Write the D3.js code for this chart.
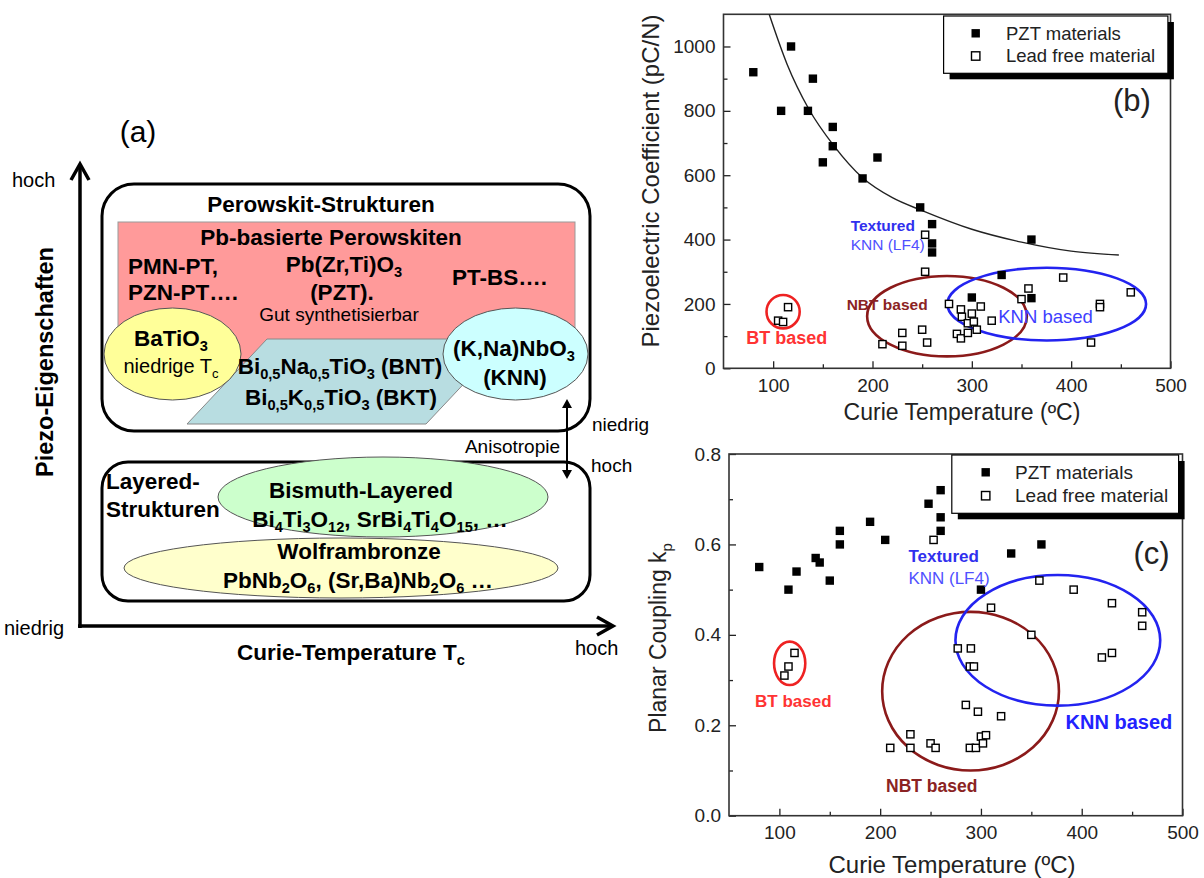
<!DOCTYPE html>
<html lang="en">
<head>
<meta charset="UTF-8">
<title>Piezo materials overview</title>
<script src="https://d3js.org/d3.v7.min.js"></script>
<style>
  body { margin: 0; background: #fff; }
  svg { display: block; font-family: "Liberation Sans", Arial, sans-serif; }
</style>
</head>
<body>
<svg id="fig" width="1204" height="878"></svg>
<script>
// ---------- data: panel (b) piezo coefficient d33 vs Curie temperature ----------
const pztD33 = [[80,920],[108,800],[118,1000],[135,800],[140,900],[150,640],[160,750],[160,690],
  [190,590],[205,655],[248,500],[260,448],[260,388],[260,360],[300,220],[330,290],[360,400],[360,218]];
const leadFreeD33 = [[105,148],[110,144],[115,190],[210,75],[230,110],[230,70],[250,120],[253,415],
  [253,300],[255,80],[277,200],[285,107],[289,183],[289,93],[290,160],[296,140],[296,110],[300,170],
  [302,145],[305,120],[309,192],[320,148],[350,215],[357,248],[392,282],[420,80],[429,200],[429,190],[460,236]];
const fitD33 = [[96,1100],[114,945],[136,805],[161,692],[190,592],[220,530],[250,490],[300,432],
  [350,392],[400,364],[448,352]];
// groups: [cx, cy, rx, ry] in data units
const groupsD33 = [[110,176,16.7,52],[275,162,80.4,125],[375.4,199.5,100,113]];

// ---------- data: panel (c) planar coupling kp vs Curie temperature ----------
const pztKp = [[80,0.55],[109,0.50],[117,0.54],[136,0.57],[140,0.56],[150,0.52],[160,0.63],[160,0.60],
  [190,0.65],[205,0.61],[248,0.69],[260,0.72],[260,0.66],[260,0.63],[300,0.50],[330,0.58],[360,0.60]];
const leadFreeKp = [[105,0.31],[109,0.33],[115,0.36],[253,0.61],[210,0.15],[230,0.18],[230,0.15],
  [250,0.16],[255,0.15],[277,0.37],[290,0.37],[289,0.33],[293,0.33],[285,0.245],[297,0.23],[320,0.22],
  [289,0.15],[295,0.15],[300,0.175],[302,0.16],[305,0.178],[310,0.46],[350,0.40],[358,0.52],[392,0.50],
  [430,0.47],[420,0.35],[430,0.36],[460,0.45],[460,0.42]];
const groupsKp = [[110.2,0.337,15.5,0.048],[289.7,0.2754,87.7,0.1754],[376.3,0.388,101.6,0.1445]];

const xTicks = [100,200,300,400,500];
const xMinor = [150,250,350,450];
const d33Ticks = [0,200,400,600,800,1000];
const d33Minor = [100,300,500,700,900];
const kpTicks = [0,0.2,0.4,0.6,0.8];
const kpMinor = [0.1,0.3,0.5,0.7];
const legendLabels = ["PZT materials", "Lead free material"];
const groupColors = ["#ee2222", "#8b1a1a", "#2323f0"];

const svg = d3.select("#fig");

// text with _{sub} markup, y = visual centre of the line
function rich(g, x, y, str, size, opts = {}) {
  const t = g.append("text")
    .attr("x", x).attr("y", y + size * 0.35)
    .attr("font-size", size)
    .attr("font-weight", opts.bold ? "bold" : "normal")
    .attr("text-anchor", opts.anchor || "middle")
    .attr("fill", opts.color || "#000");
  if (opts.rotate) t.attr("transform", `rotate(${opts.rotate},${x},${y})`);
  const parts = str.split(/(_\{[^}]*\})/).filter(s => s.length);
  let shift = 0;
  parts.forEach(p => {
    const isSub = p.startsWith("_{");
    const target = isSub ? size * 0.24 : 0;
    t.append("tspan")
      .attr("dy", target - shift)
      .attr("font-size", isSub ? size * 0.65 : size)
      .text(isSub ? p.slice(2, -1) : p);
    shift = target;
  });
  return t;
}

// ---------- panel (a): schematic ----------
const a = svg.append("g");
const B = 22.5, N = 20; // bold / normal text sizes
const bold = { bold: true };
const boldL = { bold: true, anchor: "start" };

a.append("rect").attr("x", 102).attr("y", 184).attr("width", 488).attr("height", 247)
  .attr("rx", 32).attr("fill", "#fff").attr("stroke", "#000").attr("stroke-width", 3);
a.append("rect").attr("x", 118).attr("y", 222).attr("width", 457).attr("height", 143)
  .attr("fill", "#ff9a9a").attr("stroke", "#999").attr("stroke-width", 1);
a.append("polygon").attr("points", "187,424 267,339 506,339 426,424")
  .attr("fill", "#b8dde1").attr("stroke", "#888").attr("stroke-width", 1);
a.append("ellipse").attr("cx", 172.5).attr("cy", 354).attr("rx", 68.5).attr("ry", 46)
  .attr("fill", "#ffff99").attr("stroke", "#555");
a.append("ellipse").attr("cx", 515.5).attr("cy", 354).attr("rx", 72.5).attr("ry", 46)
  .attr("fill", "#ccffff").attr("stroke", "#555");

rich(a, 321, 204, "Perowskit-Strukturen", B, bold);
rich(a, 331, 237, "Pb-basierte Perowskiten", B, bold);
rich(a, 128, 266, "PMN-PT,", B, boldL);
rich(a, 128, 292, "PZN-PT….", B, boldL);
rich(a, 344, 264, "Pb(Zr,Ti)O_{3}", B, bold);
rich(a, 342, 292, "(PZT).", B, bold);
rich(a, 452, 277, "PT-BS….", B, boldL);
rich(a, 339, 314, "Gut synthetisierbar", N - 1);
rich(a, 171, 338, "BaTiO_{3}", B, bold);
rich(a, 171, 366, "niedrige T_{c}", N);
rich(a, 340, 366, "Bi_{0,5}Na_{0,5}TiO_{3} (BNT)", B, bold);
rich(a, 341, 397, "Bi_{0,5}K_{0,5}TiO_{3} (BKT)", B, bold);
rich(a, 514, 348, "(K,Na)NbO_{3}", B, bold);
rich(a, 515, 377, "(KNN)", B, bold);

a.append("rect").attr("x", 102).attr("y", 462).attr("width", 488).attr("height", 139)
  .attr("rx", 26).attr("fill", "#fff").attr("stroke", "#000").attr("stroke-width", 3);
a.append("ellipse").attr("cx", 383).attr("cy", 497).attr("rx", 165).attr("ry", 40)
  .attr("fill", "#ccffcc").attr("stroke", "#555");
a.append("ellipse").attr("cx", 341).attr("cy", 568).attr("rx", 217).attr("ry", 30)
  .attr("fill", "#ffffcc").attr("stroke", "#555");
rich(a, 106, 481, "Layered-", B, boldL);
rich(a, 106, 509, "Strukturen", B, boldL);
rich(a, 361, 490, "Bismuth-Layered", B, bold);
rich(a, 380, 519, "Bi_{4}Ti_{3}O_{12}, SrBi_{4}Ti_{4}O_{15}, …", B, bold);
rich(a, 359, 551, "Wolframbronze", B, bold);
rich(a, 358, 580, "PbNb_{2}O_{6}, (Sr,Ba)Nb_{2}O_{6} …", B, bold);

// anisotropy double arrow
a.append("line").attr("x1", 567).attr("y1", 404).attr("x2", 567).attr("y2", 474)
  .attr("stroke", "#000").attr("stroke-width", 2);
a.append("path").attr("d", "M562,408 L567,399 L572,408 Z M562,470 L567,479 L572,470 Z").attr("fill", "#000");
rich(a, 592, 424, "niedrig", N - 1, { anchor: "start" });
rich(a, 560, 446, "Anisotropie", N - 1, { anchor: "end" });
rich(a, 591, 465, "hoch", N - 1, { anchor: "start" });

// axes of the schematic
const axStyle = s => s.attr("stroke", "#000").attr("stroke-width", 3.5).attr("fill", "none");
a.append("line").attr("x1", 80).attr("y1", 628).attr("x2", 80).attr("y2", 166).call(axStyle);
a.append("path").attr("d", "M71,180 L80,164 L89,180").call(axStyle);
a.append("line").attr("x1", 78).attr("y1", 626).attr("x2", 611).attr("y2", 626).call(axStyle);
a.append("path").attr("d", "M597,617 L613,626 L597,635").call(axStyle);
rich(a, 12, 180, "hoch", N, { anchor: "start" });
rich(a, 4, 628, "niedrig", N, { anchor: "start" });
rich(a, 575, 648, "hoch", N, { anchor: "start" });
rich(a, 138, 131, "(a)", 30);
rich(a, 45, 362, "Piezo-Eigenschaften", 23.5, { bold: true, rotate: -90 });
rich(a, 237, 652, "Curie-Temperature T_{c}", B, boldL);

// ---------- scatter panels ----------
function drawPanel(p) {
  const g = svg.append("g");
  const x = d3.scaleLinear().domain([50, 500]).range(p.xRange);
  const y = d3.scaleLinear().domain(p.yDomain).range(p.yRange);
  const [left, right] = p.xRange, [bottom, top] = p.yRange;

  const styleAxis = s => {
    s.select(".domain").remove();
    s.attr("font-family", null).attr("font-size", 19).attr("color", "#222");
    s.selectAll("line").attr("stroke-width", 1.3);
  };
  g.append("g").attr("transform", `translate(0,${bottom})`)
    .call(d3.axisBottom(x).tickValues(xTicks).tickSize(-7).tickSizeOuter(0).tickPadding(10))
    .call(styleAxis);
  g.append("g").attr("transform", `translate(0,${bottom})`)
    .call(d3.axisBottom(x).tickValues(xMinor).tickSize(-4).tickSizeOuter(0).tickFormat(""))
    .call(styleAxis);
  g.append("g").attr("transform", `translate(${left},0)`)
    .call(d3.axisLeft(y).tickValues(p.yTicks).tickSize(-7).tickSizeOuter(0).tickPadding(8).tickFormat(p.fmt))
    .call(styleAxis);
  g.append("g").attr("transform", `translate(${left},0)`)
    .call(d3.axisLeft(y).tickValues(p.yMinor).tickSize(-4).tickSizeOuter(0).tickFormat(""))
    .call(styleAxis);
  g.append("rect").attr("x", left).attr("y", top).attr("width", right - left).attr("height", bottom - top)
    .attr("fill", "none").attr("stroke", "#333").attr("stroke-width", 1.6);

  // group ellipses
  g.selectAll(".grp").data(p.groups).join("ellipse")
    .attr("cx", d => x(d[0])).attr("cy", d => y(d[1]))
    .attr("rx", d => x(d[0] + d[2]) - x(d[0])).attr("ry", d => y(d[1]) - y(d[1] + d[3]))
    .attr("fill", "none").attr("stroke", (d, i) => groupColors[i]).attr("stroke-width", 2.6);

  if (p.fit) {
    g.append("path").datum(p.fit)
      .attr("d", d3.line().x(d => x(d[0])).y(d => y(d[1])).curve(d3.curveMonotoneX))
      .attr("fill", "none").attr("stroke", "#222").attr("stroke-width", 1.4);
  }

  g.selectAll(".pzt").data(p.pzt).join("rect")
    .attr("x", d => x(d[0]) - 4.2).attr("y", d => y(d[1]) - 4.2)
    .attr("width", 8.4).attr("height", 8.4).attr("fill", "#000");
  g.selectAll(".lf").data(p.leadFree).join("rect")
    .attr("x", d => x(d[0]) - 3.6).attr("y", d => y(d[1]) - 3.6)
    .attr("width", 7.2).attr("height", 7.2).attr("fill", "#fff").attr("stroke", "#000").attr("stroke-width", 1.4);

  p.notes.forEach(n => rich(g, x(n.x), y(n.y), n.text, n.size,
    { bold: n.bold, color: n.color, anchor: n.anchor || "start" }));

  // legend
  const L = p.legend;
  g.append("rect").attr("x", L.x + 6).attr("y", L.y + 6).attr("width", L.w).attr("height", L.h).attr("fill", "#000");
  g.append("rect").attr("x", L.x).attr("y", L.y).attr("width", L.w).attr("height", L.h)
    .attr("fill", "#fff").attr("stroke", "#000").attr("stroke-width", 1.2);
  legendLabels.forEach((lab, i) => {
    const cy = L.y + L.row0 + i * L.dy;
    g.append("rect").attr("x", L.mx - 4.2).attr("y", cy - 4.2).attr("width", 8.4).attr("height", 8.4)
      .attr("fill", i === 0 ? "#000" : "#fff").attr("stroke", "#000").attr("stroke-width", i === 0 ? 0 : 1.4);
    rich(g, L.tx, cy, lab, L.size, { anchor: "start", color: "#222" });
  });

  rich(g, p.tag.x, p.tag.y, p.tag.text, 31, { color: "#222" });
  rich(g, p.xTitle.x, p.xTitle.y, "Curie  Temperature (ºC)", p.xTitle.size, { color: "#222" });
  rich(g, p.yTitle.x, p.yTitle.y, p.yTitle.text, p.yTitle.size, { color: "#222", rotate: -90 });
}

drawPanel({
  xRange: [723.5, 1170.5], yDomain: [0, 1100], yRange: [368.3, 14.3],
  yTicks: d33Ticks, yMinor: d33Minor, fmt: d3.format("d"),
  pzt: pztD33, leadFree: leadFreeD33, fit: fitD33, groups: groupsD33,
  notes: [
    { x: 178, y: 442, text: "Textured", size: 15.5, bold: true, color: "#3030ee" },
    { x: 178, y: 383, text: "KNN (LF4)", size: 15.5, color: "#5050ff" },
    { x: 174, y: 197, text: "NBT based", size: 15.5, bold: true, color: "#8b2323" },
    { x: 326.6, y: 160, text: "KNN based", size: 18.5, color: "#4040ff" },
    { x: 73, y: 96, text: "BT based", size: 18, bold: true, color: "#ff3333" }
  ],
  legend: { x: 943.6, y: 16, w: 224.3, h: 57.3, row0: 17.3, dy: 22.7, mx: 975.7, tx: 1006, size: 18.5 },
  tag: { x: 1132, y: 100, text: "(b)" },
  xTitle: { x: 962, y: 412, size: 23 },
  yTitle: { x: 651, y: 181, text: "Piezoelectric Coefficient (pC/N)", size: 24 }
});

drawPanel({
  xRange: [729, 1182.5], yDomain: [0, 0.8], yRange: [815.7, 454],
  yTicks: kpTicks, yMinor: kpMinor, fmt: d3.format(".1f"),
  pzt: pztKp, leadFree: leadFreeKp, fit: null, groups: groupsKp,
  notes: [
    { x: 228, y: 0.574, text: "Textured", size: 17, bold: true, color: "#3030ee" },
    { x: 228, y: 0.526, text: "KNN (LF4)", size: 17, color: "#5050ff" },
    { x: 75.8, y: 0.254, text: "BT based", size: 17, bold: true, color: "#ff3333" },
    { x: 205.8, y: 0.066, text: "NBT based", size: 17.5, bold: true, color: "#8b2323" },
    { x: 384, y: 0.207, text: "KNN based", size: 20, bold: true, color: "#2222ff" }
  ],
  legend: { x: 951.8, y: 455, w: 226.8, h: 58.3, row0: 17.3, dy: 23.4, mx: 985.7, tx: 1015, size: 19 },
  tag: { x: 1151.6, y: 553, text: "(c)" },
  xTitle: { x: 952, y: 865, size: 24 },
  yTitle: { x: 658, y: 638, text: "Planar Coupling k_{p}", size: 23 }
});
</script>
</body>
</html>
